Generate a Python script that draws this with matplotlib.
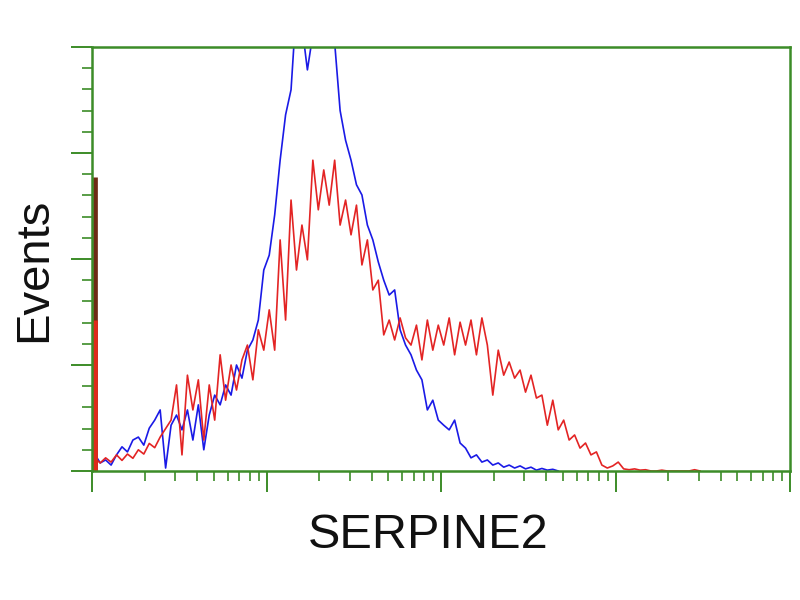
import numpy as np
import matplotlib
matplotlib.use("Agg")
import matplotlib.pyplot as plt
from matplotlib.ticker import MultipleLocator, LogLocator, NullFormatter

# 128 log-spaced channels over 4 decades (10^0 .. 10^4)
n_channels = 128
decades = 4

blue_counts = [
    4.0, 1.9, 2.6, 1.4, 3.8, 5.7, 4.5, 7.3, 8.0, 6.1,
    10.1, 12.0, 14.4, 0.7, 10.8, 13.2, 9.7, 14.4, 7.3, 15.6,
    5.0, 13.2, 17.9, 15.6, 20.3, 17.9, 25.0, 21.9, 28.5, 30.9,
    35.6, 47.4, 50.9, 60.4, 73.3, 84.0, 89.9, 110, 105, 94.6,
    103, 112, 115, 108, 101, 85.0, 78.0, 73.3, 67.5, 65.1,
    58.0, 54.5, 49.3, 45.0, 41.5, 42.7, 33.3, 29.7, 27.4, 23.8,
    21.5, 14.4, 16.7, 12.0, 10.8, 9.7, 12.0, 6.6, 5.4, 3.1,
    3.8, 2.1, 2.6, 1.4, 1.9, 0.9, 1.4, 0.7, 1.2, 0.5,
    0.9, 0.2, 0.6, 0.2, 0.4, 0.0,
]

red_counts = [
    3.0, 1.9, 3.1, 2.1, 3.8, 2.5, 4.0, 3.0, 5.0, 4.0,
    6.5, 5.5, 8.0, 10.0, 12.0, 20.3, 3.8, 22.6, 14.4, 21.5,
    7.3, 20.3, 12.0, 27.4, 16.7, 25.0, 19.1, 26.2, 29.7, 21.5,
    33.3, 28.5, 38.0, 28.5, 54.5, 35.6, 63.9, 47.4, 58.0, 49.8,
    73.3, 61.6, 71.0, 62.7, 73.3, 58.0, 63.9, 55.7, 62.7, 48.6,
    54.5, 42.7, 45.0, 32.1, 35.6, 30.9, 36.1, 31.4, 29.7, 34.4,
    26.2, 35.6, 28.5, 34.4, 29.7, 36.1, 27.4, 35.1, 29.7, 35.6,
    27.4, 36.1, 29.7, 17.9, 28.5, 22.6, 25.7, 21.9, 23.8, 18.6,
    22.6, 17.2, 17.9, 10.8, 16.7, 9.7, 12.0, 7.3, 8.5, 5.4,
    6.6, 3.8, 4.5, 1.4, 0.7, 1.2, 2.1, 0.5, 0.3, 0.5,
    0.2, 0.3, 0.0, 0.0, 0.2, 0.0, 0.0, 0.0, 0.0, 0.0,
    0.3, 0.0,
]

# saturation spike in the first channel
spike_dark_top = 69.3
spike_red_top = 35.6

y_max = 100

fig = plt.figure(figsize=(8, 6), dpi=100)
ax = fig.add_axes([0.115, 0.215, 0.8725, 0.7067])

def centers(n):
    idx = np.arange(n)
    return 10 ** ((idx + 0.5) * decades / n_channels)

ax.plot(centers(len(blue_counts)), blue_counts,
        color="#1a1ae6", lw=1.2)
ax.plot(centers(len(red_counts)), red_counts,
        color="#e32424", lw=1.2)
x_spike = 10 ** (0.55 * decades / n_channels)
ax.vlines(x_spike, 0, spike_dark_top, color="#6e2a14", lw=3.4)
ax.vlines(x_spike, 0, spike_red_top, color="#e02a1a", lw=3.4)

ax.set_xscale("log")
ax.set_xlim(1, 10 ** decades)
ax.set_ylim(0, y_max)

ax.xaxis.set_major_locator(LogLocator(base=10, numticks=10))
ax.xaxis.set_minor_locator(LogLocator(base=10, subs=np.arange(2, 10), numticks=50))
ax.xaxis.set_major_formatter(NullFormatter())
ax.xaxis.set_minor_formatter(NullFormatter())
ax.yaxis.set_major_locator(MultipleLocator(25))
ax.yaxis.set_minor_locator(MultipleLocator(5))
ax.yaxis.set_major_formatter(NullFormatter())

green = "#3c8c28"
for s in ax.spines.values():
    s.set_color(green)
    s.set_linewidth(1.8)

ax.tick_params(axis="both", which="major", direction="out", length=15,
               width=1.4, color=green)
ax.tick_params(axis="both", which="minor", direction="out", length=7,
               width=1.2, color=green)

fig.text(0.535, 0.108, "SERPINE2", ha="center", va="center",
         fontsize=35, family="Liberation Sans", color="#111111")
fig.text(0.043, 0.55, "Events", ha="center", va="center", rotation=90,
         fontsize=34, family="Liberation Sans", color="#111111")

fig.savefig("out.png", dpi=100)
